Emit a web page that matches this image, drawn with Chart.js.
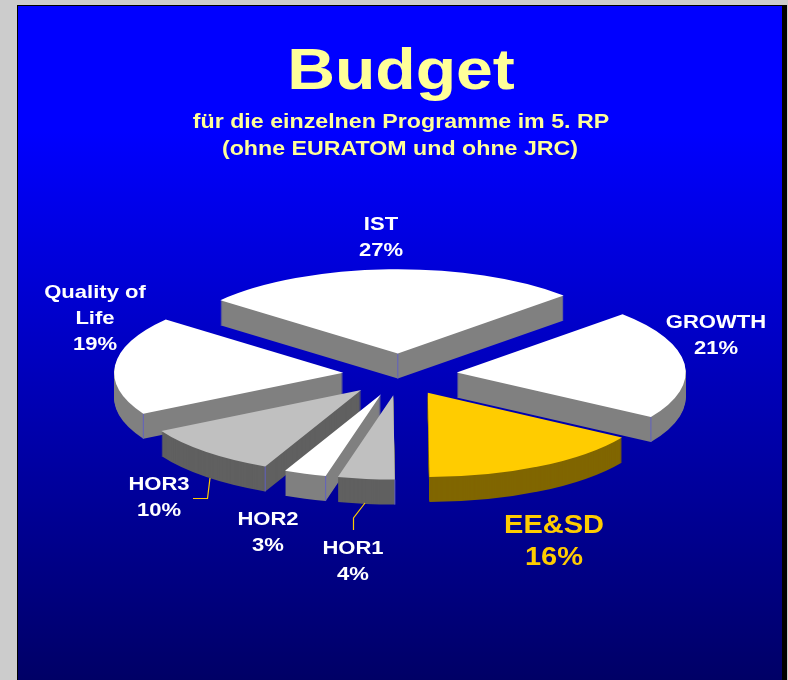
<!DOCTYPE html>
<html>
<head>
<meta charset="utf-8">
<title>Budget</title>
<style>
html, body { margin: 0; padding: 0; background: #cccccc; overflow: hidden; }
#slide {
	position: absolute; left: 17px; top: 5px; width: 764px; height: 700px;
	border-left: 1px solid #000; border-top: 1px solid #000; border-right: 5px solid #000;
	background: linear-gradient(to bottom, #0000ff 0px, #0000ff 124px, #000066 674px);
}
#wrap { position: absolute; left: 0; top: 0; width: 764px; height: 674px; }
</style>
</head>
<body>
<div id="slide"><div id="wrap"><canvas id="pie-chart"></canvas></div></div>
<script src="https://cdn.jsdelivr.net/npm/chart.js@4/dist/chart.umd.min.js"></script>
<script>
var categories = ["IST", "GROWTH", "EE&SD", "HOR1", "HOR2", "HOR3", "Quality of Life"];
var shares = [27, 21, 16, 4, 3, 10, 19];
var topColors = ["#ffffff", "#ffffff", "#ffcc00", "#c0c0c0", "#ffffff", "#c0c0c0", "#ffffff"];
var sideColors = ["#808080", "#808080", "#806600", "#606060", "#808080", "#606060", "#808080"];

// label lines, one entry per slice, and where they sit on the canvas
var labelLines = [["IST"], ["GROWTH"], ["EE&SD"], ["HOR1"], ["HOR2"], ["HOR3"], ["Quality of", "Life"]];
var labelSpots = [[363, 219], [698, 317], [536, 520], [335, 543], [250, 514], [141, 479], [77, 287]];

var titleText = "Budget";
var subtitleLines = ["für die einzelnen Programme im 5. RP", "(ohne EURATOM und ohne JRC)"];

var squash = 0.368;     // pie tilt
var depth = 25;         // thickness of the slices
var explode = 57;       // how far each slice is pulled out
var stretch = 1.16;     // the slide's text is wider than the font

// back to front, so nearer sides cover the ones behind
var drawOrder = [0, 6, 1, 5, 2, 4, 3];
// vertical hairlines on the slice corners: [slice, corner]
var cornerLines = [[0, "apex"], [1, "end"], [6, "start"], [5, "start"], [4, "start"], [3, "start"]];

function sliceShift(arc) {
	var mid = (arc.startAngle + arc.endAngle) / 2;
	return { x: Math.cos(mid) * explode, y: Math.sin(mid) * explode * squash };
}

function placeSlice(ctx, arc, down) {
	var s = sliceShift(arc);
	ctx.translate(arc.x + s.x, arc.y + s.y + down);
	ctx.scale(1, squash);
	ctx.translate(-arc.x, -arc.y);
}

function paintSlice(ctx, arc, color, down) {
	var saved = arc.options;
	arc.options = Object.assign({}, saved, { backgroundColor: color, borderColor: color, borderWidth: 0, offset: 0 });
	ctx.save();
	placeSlice(ctx, arc, down);
	arc.draw(ctx);
	ctx.restore();
	arc.options = saved;
}

function cornerPoint(arc, corner) {
	var s = sliceShift(arc);
	if (corner === "apex") return { x: arc.x + s.x, y: arc.y + s.y };
	var a = corner === "start" ? arc.startAngle : arc.endAngle;
	return {
		x: arc.x + s.x + Math.cos(a) * arc.outerRadius,
		y: arc.y + s.y + Math.sin(a) * arc.outerRadius * squash
	};
}

function wideText(ctx, text, x, y) {
	ctx.save();
	ctx.translate(x, y);
	ctx.scale(stretch, 1);
	ctx.fillText(text, 0, 0);
	ctx.restore();
}

var pie3d = {
	id: "pie3d",
	beforeDatasetDraw: function (chart, args) {
		var ctx = chart.ctx;
		var arcs = args.meta.data;
		drawOrder.forEach(function (i) {
			for (var d = depth; d >= 1; d--) {
				paintSlice(ctx, arcs[i], sideColors[i], d);
			}
		});
		cornerLines.forEach(function (c) {
			var p = cornerPoint(arcs[c[0]], c[1]);
			ctx.save();
			ctx.strokeStyle = "#6060c0";
			ctx.lineWidth = 1;
			ctx.beginPath();
			ctx.moveTo(p.x, p.y);
			ctx.lineTo(p.x, p.y + depth);
			ctx.stroke();
			ctx.restore();
		});
		drawOrder.forEach(function (i) {
			paintSlice(ctx, arcs[i], topColors[i], 0);
		});
		return false;
	},
	afterDraw: function (chart) {
		var ctx = chart.ctx;
		var family = "'Liberation Sans', Arial, sans-serif";
		ctx.save();
		ctx.textAlign = "center";

		ctx.textBaseline = "alphabetic";
		ctx.fillStyle = "#ffff99";
		ctx.font = "bold 57px " + family;
		wideText(ctx, titleText, 383, 83);
		ctx.font = "bold 20px " + family;
		wideText(ctx, subtitleLines[0], 383, 122);
		wideText(ctx, subtitleLines[1], 382, 149);

		// leader lines
		ctx.strokeStyle = "#ffcc00";
		ctx.lineWidth = 1.2;
		ctx.beginPath();
		ctx.moveTo(192, 472); ctx.lineTo(189.5, 492.5); ctx.lineTo(175, 492.5);
		ctx.moveTo(347, 497); ctx.lineTo(335.5, 512); ctx.lineTo(335.5, 524);
		ctx.stroke();

		ctx.textBaseline = "middle";
		labelLines.forEach(function (lines, i) {
			var big = i === 2;
			var rows = lines.concat([shares[i] + "%"]);
			ctx.fillStyle = big ? "#ffcc00" : "#ffffff";
			ctx.font = "bold " + (big ? 25 : 19) + "px " + family;
			rows.forEach(function (text, r) {
				wideText(ctx, text, labelSpots[i][0], labelSpots[i][1] + r * (big ? 32 : 26));
			});
		});
		ctx.restore();
	}
};

var ctx1 = document.getElementById("pie-chart");

var data1 = {
	labels: categories,
	datasets: [
		{
			label: "Budget",
			data: shares,
			backgroundColor: topColors,
			borderWidth: 0,
			clip: false
		}
	]
};

var options = {
	responsive: false,
	animation: false,
	rotation: -50.8,
	radius: 229,
	layout: { padding: { top: 63 } },
	plugins: {
		legend: { display: false },
		tooltip: { enabled: false }
	}
};

ctx1.width = 764;
ctx1.height = 674;

var chart1 = new Chart(ctx1, {
	type: "pie",
	data: data1,
	options: options,
	plugins: [pie3d]
});
</script>
</body>
</html>
